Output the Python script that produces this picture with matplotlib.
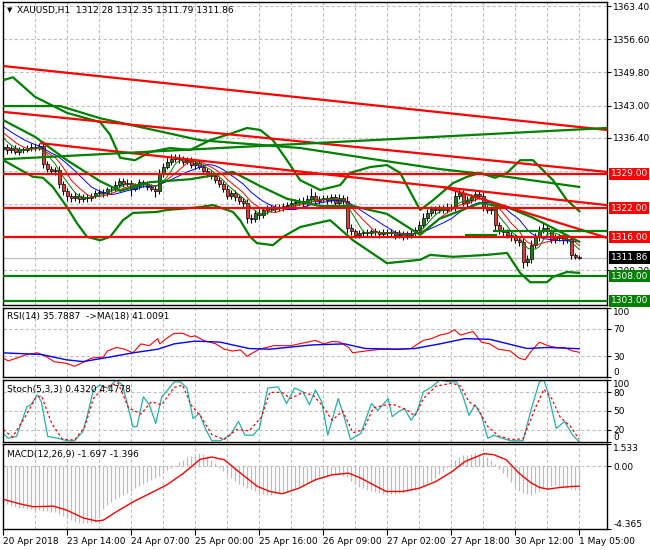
import numpy as np
import pandas as pd
import matplotlib
matplotlib.use("Agg")
import matplotlib.pyplot as plt
from matplotlib.transforms import blended_transform_factory

plt.rcParams["font.family"] = ["DejaVu Sans"]
plt.rcParams["font.size"] = 6.5
FS = 6.5

# ---------------- data ----------------
time_label_bars = [0, 16, 32, 48, 64, 80, 96, 112, 128, 144]
time_labels = ["20 Apr 2018", "23 Apr 14:00", "24 Apr 07:00", "25 Apr 00:00",
               "25 Apr 16:00", "26 Apr 09:00", "27 Apr 02:00", "27 Apr 18:00",
               "30 Apr 12:00", "1 May 05:00"]

# closes just before the first visible bar (only feed the moving averages)
prior_closes = [1341.0, 1341.0, 1340.5, 1340.0, 1340.5, 1339.5, 1339.0, 1339.0,
                1338.0, 1337.5, 1336.5, 1335.5]
first_open = 1334.0
closes = [
    1334.5, 1333.8, 1334.2, 1333.5, 1334.0, 1333.9, 1334.3, 1334.6, 1334.4, 1334.8,
    1331.0, 1330.0, 1329.5, 1329.8, 1327.0, 1325.5, 1324.5, 1324.0, 1324.5, 1323.8,
    1324.2, 1324.0, 1324.5, 1325.0, 1325.3, 1325.0, 1325.8, 1326.0, 1326.8, 1327.5,
    1327.0, 1327.2, 1326.0, 1326.5, 1327.3, 1327.0, 1326.3, 1326.0, 1325.5, 1329.0,
    1330.5, 1331.5, 1332.0, 1332.3, 1332.0, 1331.5, 1331.8, 1330.8, 1331.2, 1330.5,
    1329.5, 1329.0, 1328.5, 1327.8, 1327.0, 1326.0, 1324.5, 1325.0, 1324.2, 1323.5,
    1323.0, 1320.0, 1319.8, 1321.0, 1320.5, 1321.5, 1322.0, 1321.8, 1322.2, 1322.0,
    1322.4, 1322.6, 1323.0, 1323.2, 1323.5, 1323.0, 1323.8, 1324.5, 1323.5, 1323.8,
    1324.0, 1323.6, 1324.2, 1323.0, 1324.0, 1323.5, 1318.0, 1317.2, 1316.5, 1316.9,
    1317.0, 1316.8, 1317.2, 1317.0, 1316.6, 1317.1, 1316.8, 1317.0, 1316.4, 1316.7,
    1316.2, 1316.5, 1316.8, 1317.5, 1318.5, 1320.0, 1321.0, 1321.8, 1321.5, 1322.0,
    1321.6, 1322.3, 1322.0, 1324.5, 1325.0, 1323.0, 1323.6, 1324.2, 1324.8, 1324.5,
    1322.0, 1321.5, 1321.8, 1318.5, 1317.5, 1317.0, 1316.5, 1316.0, 1315.5, 1315.0,
    1311.0, 1311.5, 1314.5, 1316.0, 1317.5, 1318.0, 1317.2, 1315.5, 1316.0, 1315.8,
    1315.4, 1315.6, 1312.3, 1312.0, 1311.86,
]
wick_up = [
    0.7, 0.6, 0.5, 0.7, 0.6, 0.5, 0.6, 0.7, 0.6, 0.5,
    0.9, 0.7, 0.6, 0.7, 0.8, 0.6, 0.7, 0.6, 0.7, 0.6,
    0.6, 0.7, 0.5, 0.6, 0.7, 0.6, 0.5, 0.6, 0.7, 0.6,
    0.6, 0.7, 0.6, 0.7, 0.6, 0.5, 0.6, 0.7, 0.6, 0.9,
    0.8, 0.9, 1.0, 0.8, 0.7, 0.6, 0.7, 0.6, 0.7, 0.6,
    0.6, 0.7, 0.6, 0.7, 0.6, 0.5, 0.7, 0.6, 0.7, 0.6,
    0.6, 0.9, 0.7, 0.6, 0.7, 0.6, 0.6, 0.7, 0.6, 0.7,
    0.6, 0.7, 0.6, 0.7, 0.6, 0.7, 0.9, 1.6, 0.7, 0.6,
    0.7, 0.6, 0.7, 0.6, 0.8, 0.6, 0.9, 0.7, 0.6, 0.7,
    0.6, 0.7, 0.6, 0.7, 0.6, 0.7, 0.6, 0.7, 0.6, 0.7,
    0.6, 0.7, 0.6, 0.7, 0.8, 0.9, 0.8, 0.7, 0.6, 0.7,
    0.6, 0.7, 0.6, 1.0, 1.1, 0.7, 0.8, 0.6, 0.7, 0.8,
    0.7, 0.6, 0.7, 0.8, 0.7, 0.6, 0.7, 0.6, 0.7, 0.6,
    0.9, 0.8, 1.0, 0.9, 0.8, 1.1, 0.7, 0.6, 0.7, 0.6,
    0.6, 0.7, 0.6, 0.4, 0.3,
]
wick_dn = [
    0.6, 0.7, 0.6, 0.5, 0.7, 0.6, 0.5, 0.6, 0.7, 0.6,
    0.8, 0.7, 0.6, 0.7, 0.9, 0.8, 1.0, 0.7, 0.6, 0.7,
    0.6, 0.7, 0.6, 0.5, 0.6, 0.7, 0.6, 0.5, 0.6, 0.7,
    0.6, 0.5, 1.6, 0.6, 0.5, 0.6, 0.7, 0.6, 1.3, 0.6,
    0.7, 0.6, 0.7, 0.6, 0.7, 0.6, 0.5, 0.6, 0.7, 0.6,
    0.6, 0.7, 0.6, 0.7, 0.6, 0.8, 0.7, 0.6, 0.7, 0.6,
    0.7, 1.0, 0.9, 0.7, 0.8, 0.6, 0.7, 0.6, 0.7, 0.6,
    0.6, 0.7, 0.6, 0.5, 0.6, 0.7, 0.6, 0.7, 0.6, 0.7,
    0.6, 0.7, 0.6, 0.7, 0.6, 0.7, 1.1, 0.8, 0.7, 0.6,
    0.7, 0.6, 0.7, 0.6, 0.7, 0.6, 0.7, 0.6, 0.7, 0.6,
    0.7, 0.6, 0.7, 0.6, 0.7, 0.6, 0.7, 0.6, 0.7, 0.6,
    0.7, 0.6, 0.7, 0.6, 0.7, 0.6, 0.7, 0.6, 0.7, 0.6,
    0.7, 0.6, 0.7, 1.1, 0.9, 0.7, 0.6, 0.7, 0.6, 0.8,
    1.2, 0.9, 0.7, 0.6, 0.7, 0.6, 0.7, 0.6, 0.7, 0.6,
    0.7, 0.6, 0.7, 0.4, 0.3,
]

# Bollinger bands / long MA (bar, price)
bb_up_bar = [0, 2.4, 7.9, 15.9, 24.2, 26.7, 29.2, 32.9, 36.7, 41.7, 46.7, 51.7, 57.4, 60.9,
             64.2, 67.4, 70.9, 74.2, 79.2, 84.2, 86.7, 91.7, 95.9, 99.2, 102.4, 104.2,
             107.4, 112.4, 115.9, 119.2, 122.9, 125.9, 129.2, 132.4, 137.4, 140.9, 144.2]
bb_up_val = [1348.2, 1348.8, 1344.8, 1341.5, 1339.6, 1337.0, 1332.3, 1331.8, 1333.5, 1334.3,
             1333.9, 1335.9, 1337.4, 1338.4, 1338.0, 1335.9, 1331.8, 1327.7, 1325.7, 1326.7,
             1329.2, 1330.4, 1330.8, 1329.2, 1324.3, 1321.6, 1323.6, 1327.1, 1328.4, 1329.2,
             1328.2, 1329.2, 1331.8, 1331.8, 1327.7, 1323.6, 1321.2]
bb_mid_bar = [0, 7.9, 15.9, 24.2, 29.2, 36.7, 46.7, 57.4, 64.2, 70.9, 79.2, 87.4, 95.9,
              104.2, 109, 119.2, 125.9, 132.4, 137.4, 144.2]
bb_mid_val = [1340.0, 1336.6, 1331.8, 1327.5, 1325.5, 1327.3, 1327.9, 1329.4, 1326.5, 1323.9,
              1322.4, 1322.4, 1320.8, 1316.5, 1319.8, 1323.0, 1322.2, 1320.0, 1317.9, 1315.0]
bb_lo_bar = [0, 7.4, 9.9, 12.4, 15.9, 18.4, 20.9, 24.2, 26.7, 29.9, 32.4, 38.4, 40.9, 46.7,
             49.2, 52.4, 57.4, 59.2, 61.7, 63.4, 67.4, 69.9, 74.2, 78.4, 81.7, 87.4, 95.9,
             104.2, 106.7, 112.4, 120.9, 125.9, 129.2, 131.7, 135.9, 137.4, 140.9, 144.2]
bb_lo_val = [1331.8, 1328.4, 1328.2, 1326.3, 1322.2, 1318.9, 1316.1, 1315.4, 1316.1, 1319.5,
             1321.0, 1321.2, 1321.6, 1322.0, 1322.2, 1322.6, 1321.2, 1319.5, 1316.1, 1314.8,
             1314.4, 1316.1, 1318.1, 1318.9, 1319.5, 1315.4, 1310.7, 1311.4, 1312.4, 1312.0,
             1312.4, 1312.8, 1308.7, 1306.8, 1306.8, 1307.9, 1308.9, 1308.7]
long_ma_bar = [0, 14.2, 24.2, 49.2, 74.2, 94.2, 109, 125.9, 144.2]
long_ma_val = [1342.9, 1342.9, 1340.4, 1335.9, 1334.3, 1331.8, 1330.0, 1328.4, 1326.3]

# trend lines: (bar0, price0, bar1, price1, colour)
trend_lines = [
    (0, 1351.1, 150.9, 1338.0, "#ff0000"),
    (0, 1341.7, 150.9, 1329.4, "#ff0000"),
    (9.2, 1335.3, 150.9, 1322.6, "#ff0000"),
    (110, 1326.3, 150.9, 1315.9, "#ff0000"),
    (0, 1332.0, 150.9, 1338.4, "#008000"),
    (115.5, 1316.5, 123.5, 1316.5, "#008000"),
    (122.5, 1317.3, 150.9, 1317.3, "#008000"),
]
levels = [1329.0, 1322.0, 1316.0, 1308.0, 1303.0]
level_colors = ["#ff0000", "#ff0000", "#ff0000", "#008000", "#008000"]
last_price = 1311.86

grid_prices = [1363.4, 1356.6, 1349.8, 1343.0, 1336.4, 1329.6, 1322.8, 1316.0, 1309.2]
price_ticks = [1363.4, 1356.6, 1349.8, 1343.0, 1336.4, 1309.2]
price_tick_labels = ["1363.40", "1356.60", "1349.80", "1343.00", "1336.40", "1309.20"]

# RSI(14) and its MA(18)
rsi_bar = [0, 1.2, 3.3, 5.9, 8.5, 10.6, 12.7, 15.8, 17.8, 19.4, 22, 25, 26, 28.2, 30.3, 32.4,
           34.4, 36.5, 38.6, 39.1, 40.7, 42.7, 44.8, 46.9, 47.9, 50, 53.1, 55.2, 57.3, 59.3,
           60.9, 62.4, 64, 67.6, 71.8, 73.9, 75.9, 78, 80.1, 82.2, 84.2, 86.3, 87.3, 90.5,
           94.6, 98.7, 101.9, 102.9, 105, 107, 109.1, 111.2, 112.7, 114.3, 117.4, 119.5,
           121.6, 123.7, 126.7, 128.9, 130.4, 132, 134, 136.1, 138.2, 140.2, 142.3, 144]
rsi_val = [27.4, 23.3, 27.4, 32.6, 35.1, 30, 22.3, 19.7, 15.6, 19.7, 27.4, 29, 37.7, 42.8,
           40.3, 35.1, 48, 45.4, 55.6, 48, 55.6, 63.3, 63.3, 58.2, 59.8, 53.1, 48, 40.3, 37.7,
           39.2, 30, 35.1, 40.3, 45.4, 45.4, 48, 50.5, 53.1, 48, 51.5, 50.5, 42.8, 35.1, 37.7,
           40.3, 40.3, 41.3, 45.4, 53.1, 55.6, 60.8, 63.3, 68.5, 60.8, 65.9, 50.5, 48, 40.3,
           37.7, 27.4, 24.9, 37.7, 50.5, 45.4, 42.8, 42.8, 37.7, 35.8]
rsi_ma_bar = [0, 9.5, 15.8, 19.9, 25.1, 32.4, 38.6, 42.7, 47.9, 54.2, 61.4, 66.6, 77, 85.3,
              90.5, 98.8, 102.9, 109.1, 115.4, 121.6, 130.9, 136.1, 143.9]
rsi_ma_val = [35, 32.6, 24.9, 22.3, 27.4, 35, 40.3, 48, 52, 50.5, 41.3, 40.3, 46.4, 48,
              41.3, 40.3, 41.3, 48, 55.6, 54.6, 41.3, 42.8, 41.0]

# Stochastic(5,3,3)
stk_bar = [0, 1.2, 3.3, 5.9, 6.9, 8.5, 9.5, 11.1, 13.7, 15.8, 17.8, 19.9, 21, 22.5, 24.1,
           26.1, 28.2, 29.8, 32.4, 33.4, 35, 36.5, 38.1, 39.6, 40.7, 42.7, 44.3, 45.9, 47.4,
           49, 50.5, 52.1, 54.2, 56.7, 58.8, 60.4, 62.4, 64, 66.1, 68.7, 70.8, 72.8, 74.9,
           76.5, 78, 79.6, 81.1, 83.7, 85.3, 86.8, 89.4, 92, 93.6, 96.2, 97.2, 98.8, 100.3,
           101.9, 103.4, 105, 107.1, 109.1, 111.7, 113.3, 114.8, 116.4, 117.9, 119.5, 121.1,
           122.6, 124.7, 126.8, 129.9, 132, 134, 135.1, 136.1, 138.2, 140.3, 142.3, 143.9]
stk_val = [14, 6, 9, 57, 60, 76, 65, 9, 6, 2, 2, 17, 43, 84, 92, 87, 100, 92, 24.7, 24.7,
           73, 60, 30, 73, 81, 97, 97, 87, 38, 46, 22, 2, 2, 11, 33, 11, 11, 22, 87, 89,
           62, 87, 81, 60, 84, 65, 11, 70, 38, 3.8, 14, 62, 51, 70, 41, 49, 54, 35, 49, 81,
           89, 100, 97, 97, 76, 43, 60, 43, 6, 11, 6, 2, 2, 54, 97, 100, 81, 22, 33, 11, 0.4]
std_bar = [0, 2.3, 5.4, 8, 9.5, 12.1, 14.7, 17.8, 20.4, 22.5, 25.1, 28.7, 31.3, 34.4, 37.0,
           39.6, 42.7, 44.8, 46.9, 49.5, 52.1, 55.2, 58.3, 61.4, 64.5, 66.6, 69.7, 71.8, 74.9,
           77.5, 79.6, 82.2, 84.8, 87.4, 90, 92.5, 95.7, 97.7, 100.8, 102.9, 105, 108.1,
           112.2, 114.3, 116.4, 118.5, 121.1, 123.7, 126.8, 129.9, 133, 135.1, 137.1, 139.2,
           141.8, 143.9]
std_val = [20, 8, 40, 70, 75, 30, 5, 3, 25, 70, 88, 95, 55, 45, 65, 60, 88, 92, 60, 40, 12,
           4, 20, 18, 40, 80, 80, 70, 80, 75, 60, 35, 50, 15, 20, 55, 60, 60, 52, 42, 70, 90,
           95, 90, 65, 55, 25, 10, 4, 5, 55, 85, 70, 40, 25, 4.5]

# MACD(12,26,9): main (histogram) per bar, signal read at points
macd_main = [
    -2.45, -2.6, -2.75, -2.85, -2.9, -2.93, -2.97, -3.0, -3.03, -3.05,
    -3.1, -3.13, -3.16, -3.22, -3.3, -3.45, -3.6, -3.75, -3.85, -3.92,
    -3.97, -3.97, -3.93, -3.86, -3.5, -2.95, -2.7, -2.5, -2.3, -2.12,
    -2.0, -1.85, -1.7, -1.55, -1.4, -1.25, -1.1, -0.95, -0.85, -0.7,
    -0.5, -0.3, -0.1, 0.1, 0.3, 0.45, 0.6, 0.7, 0.8, 0.88,
    0.85, 0.7, 0.45, 0.2, -0.1, -0.35, -0.6, -0.85, -1.05, -1.25,
    -1.4, -1.5, -1.6, -1.75, -1.85, -1.95, -2.0, -1.98, -1.95, -1.9,
    -1.8, -1.7, -1.6, -1.5, -1.4, -1.3, -1.15, -1.05, -0.95, -0.85,
    -0.75, -0.68, -0.62, -0.6, -0.62, -0.68, -0.75, -1.0, -1.25, -1.43,
    -1.55, -1.65, -1.75, -1.82, -1.88, -1.93, -1.94, -1.93, -1.91, -1.9,
    -1.85, -1.8, -1.72, -1.66, -1.5, -1.35, -1.2, -1.05, -0.8, -0.55,
    -0.35, -0.1, 0.2, 0.45, 0.65, 0.75, 0.8, 0.85, 0.88, 0.85,
    0.75, 0.6, 0.45, 0.15, -0.2, -0.5, -0.75, -1.1, -1.45, -1.7,
    -1.9, -1.97, -2.0, -1.85, -1.7, -1.55, -1.45, -1.38, -1.32, -1.35,
    -1.43, -1.5, -1.6, -1.66, -1.7,
]
sig_bar = [0, 4.4, 7.5, 12.5, 15.8, 20, 23.3, 25, 28.3, 32.5, 36.7, 40.8, 45, 49.2, 52.1,
           55.2, 59.3, 63.5, 66.6, 69.7, 73.9, 78, 82.2, 86.3, 89.4, 92.5, 95.7, 99.8, 104,
           108.1, 112.2, 115.4, 120.1, 122.6, 125.7, 128.9, 132, 134, 136.1, 139.2, 142.3,
           143.9]
sig_val = [-2.31, -2.64, -2.82, -2.78, -3.05, -3.6, -3.81, -3.75, -3.16, -2.47, -1.89,
           -1.31, -0.5, 0.47, 0.63, 0.44, -0.49, -1.41, -1.76, -1.92, -1.53, -0.95, -0.6,
           -0.49, -0.84, -1.30, -1.76, -1.76, -1.53, -1.07, -0.37, 0.32, 0.86, 0.79, 0.44,
           -0.49, -1.18, -1.48, -1.6, -1.48, -1.41, -1.40]

# ---------------- figure ----------------
W, H = 650, 550
fig = plt.figure(figsize=(W / 100, H / 100), dpi=100)


def panel(top, bottom):
    return fig.add_axes([3 / W, 1 - bottom / H, 604 / W, (bottom - top) / H])


ax = panel(2, 305)
ax_rsi = panel(308, 377)
ax_sto = panel(380, 442)
ax_macd = panel(444, 529)
axes = [ax, ax_rsi, ax_sto, ax_macd]

n = len(closes)
bars = np.arange(n)
GRID = "#c0c0c0"

for a in axes:
    a.set_xlim(-0.08, 150.9)
    a.yaxis.tick_right()
    a.tick_params(axis="y", length=3, width=0.8, pad=1.5, labelsize=FS)
    a.tick_params(axis="x", length=0)
    a.set_xticks([])
    for s in a.spines.values():
        s.set_linewidth(1.0)
        s.set_color("black")
    for b in range(8, 145, 8):
        a.axvline(b, color=GRID, lw=0.8, ls=(0, (3, 2)), zorder=0)

# ---- main price panel ----
ax.set_ylim(1302.13, 1364.22)
ax.set_yticks(price_ticks)
ax.set_yticklabels(price_tick_labels)
for p in grid_prices:
    ax.axhline(p, color=GRID, lw=0.8, ls=(0, (3, 2)), zorder=0)
ax.axhline(last_price, color=GRID, lw=0.9, zorder=0.5)

opens = [first_open] + closes[:-1]
for i in range(n):
    o, c = opens[i], closes[i]
    lo_b, hi_b = min(o, c), max(o, c)
    ax.vlines(i, lo_b - wick_dn[i], hi_b + wick_up[i], color="black", lw=0.8, zorder=1)
    fc = "#1e7b1e" if c >= o else "#e8382f"
    ax.bar(i, max(hi_b - lo_b, 0.12), bottom=lo_b, width=0.68, color=fc,
           edgecolor="black", linewidth=0.5, zorder=1.5)

# thin moving averages over price (history before the first bar included)
k = len(prior_closes)
cs = pd.Series(prior_closes + closes)
for period, col in [(13, "#0000ff"), (8, "#ff0000"), (5, "#008000")]:
    ma = cs.rolling(period, min_periods=1).mean().to_numpy()[k:]
    ax.plot(bars, ma, color=col, lw=0.7, zorder=2)

for bx, by in [(bb_up_bar, bb_up_val), (bb_mid_bar, bb_mid_val), (bb_lo_bar, bb_lo_val),
               (long_ma_bar, long_ma_val)]:
    ax.plot(bx, by, color="#008000", lw=1.6, zorder=3, solid_capstyle="butt")

for x0, y0, x1, y1, col in trend_lines:
    ax.plot([x0, x1], [y0, y1], color=col, lw=1.6, zorder=4, solid_capstyle="butt")
for lv, col in zip(levels, level_colors):
    ax.axhline(lv, color=col, lw=1.6, zorder=4)

trans = blended_transform_factory(ax.transAxes, ax.transData)
box_items = [(1329.0, "1329.00", "#ff0000"), (1322.0, "1322.00", "#ff0000"),
             (1316.0, "1316.00", "#ff0000"), (last_price, "1311.86", "#000000"),
             (1308.0, "1308.00", "#008000"), (1303.0, "1303.00", "#008000")]
for v, txt, col in box_items:
    ax.text(1.006, v, txt, transform=trans, ha="left", va="center", color="white",
            fontsize=FS, clip_on=False, zorder=10,
            bbox=dict(boxstyle="square,pad=0.18", fc=col, ec="none"))

ax.text(0.006, 0.972, "\u25bc", transform=ax.transAxes, fontsize=5, va="center", ha="left")
ax.text(0.023, 0.972, "XAUUSD,H1  1312.28 1312.35 1311.79 1311.86",
        transform=ax.transAxes, fontsize=FS, va="center", ha="left")

# ---- RSI ----
ax_rsi.set_ylim(0, 100)
for lv in [70, 30]:
    ax_rsi.axhline(lv, color=GRID, lw=0.8, ls=(0, (3, 2)), zorder=0)
ax_rsi.plot(rsi_bar, rsi_val, color="#ff0000", lw=0.8)
ax_rsi.plot(rsi_ma_bar, rsi_ma_val, color="#0000ff", lw=1.0)
ax_rsi.set_yticks([100, 70, 30, 0])
ax_rsi.set_yticklabels(["100", "70", "30", "0"])
ax_rsi.text(0.006, 0.87, "RSI(14) 35.7887  ->MA(18) 41.0091", transform=ax_rsi.transAxes,
            fontsize=FS, va="center")

# ---- Stochastic ----
ax_sto.set_ylim(0, 100)
for lv in [80, 50, 20]:
    ax_sto.axhline(lv, color=GRID, lw=0.8, ls=(0, (3, 2)), zorder=0)
ax_sto.plot(stk_bar, stk_val, color="#20b2aa", lw=0.9)
ax_sto.plot(std_bar, std_val, color="#ff0000", lw=0.9, ls=(0, (2, 2)))
ax_sto.set_yticks([100, 80, 50, 20, 0])
ax_sto.set_yticklabels(["100", "80", "50", "20", "0"])
ax_sto.text(0.006, 0.84, "Stoch(5,3,3) 0.4320 4.4778", transform=ax_sto.transAxes,
            fontsize=FS, va="center")

# ---- MACD ----
ax_macd.set_ylim(-4.365, 1.533)
ax_macd.axhline(0, color=GRID, lw=0.8, ls=(0, (3, 2)), zorder=0)
ax_macd.vlines(bars, 0, macd_main, color="#bcbcbc", lw=0.9, zorder=1)
ax_macd.plot(sig_bar, sig_val, color="#ff0000", lw=1.0, zorder=2)
ax_macd.set_yticks([1.533, 0.0, -4.365])
ax_macd.set_yticklabels(["1.533", "0.00", "-4.365"])
ax_macd.text(0.006, 0.88, "MACD(12,26,9) -1.697 -1.396", transform=ax_macd.transAxes,
             fontsize=FS, va="center")
ax_macd.set_xticks(time_label_bars)
ax_macd.set_xticklabels(time_labels)
ax_macd.tick_params(axis="x", length=4, width=0.8, pad=1.5, labelsize=FS, direction="out")
for lbl in ax_macd.get_xticklabels():
    lbl.set_ha("left")

# edge labels sit inside the window like the terminal draws them
for a in [ax_rsi, ax_sto, ax_macd]:
    lbls = a.get_yticklabels()
    lbls[0].set_va("top")
    lbls[-1].set_va("bottom")

fig.savefig("out.png", dpi=100)
